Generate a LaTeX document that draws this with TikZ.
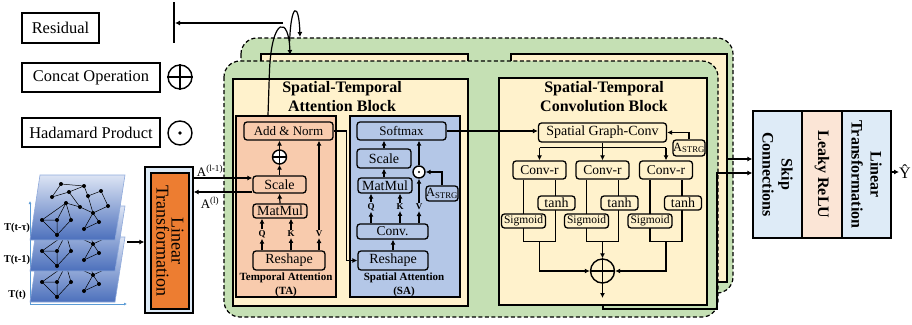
\documentclass[tikz,border=0pt]{standalone}
\usepackage{fontspec}
\setmainfont{Liberation Serif}
\usetikzlibrary{arrows.meta,calc}

\definecolor{greenbg}{HTML}{C5E0B4}
\definecolor{yellowbg}{HTML}{FFF2CC}
\definecolor{tafill}{HTML}{F8CBAD}
\definecolor{safill}{HTML}{B4C7E7}
\definecolor{linorange}{HTML}{ED7D31}
\definecolor{paleblue}{HTML}{DEEBF7}
\definecolor{palepeach}{HTML}{FBE5D6}
\definecolor{planetop}{HTML}{DCE4F4}
\definecolor{planebot}{HTML}{4C70BC}
\definecolor{planeedge}{HTML}{8EA9DB}
\definecolor{axisblue}{HTML}{5B9BD5}

\newcommand\fsz[2]{\fontsize{#1}{#2}\selectfont}

% one graph snapshot on a skewed plane
\newcommand\stgraph{%
  \path[draw=planeedge, line width=0.6pt, top color=planetop, bottom color=planebot]
    (30,240) -- (115,240) -- (125,175) -- (40,175) -- cycle;
  \foreach \n/\px/\py in {1/61/184, 2/84/186, 3/69/192, 4/52/197, 5/88/196, 6/101/191,
      7/108/206, 8/66/203, 9/80/207, 10/93/213, 11/42/220, 12/57/220, 13/71/220,
      14/99/222, 15/84/229, 16/57/235}
    \coordinate (g\n) at (\px,\py);
  \draw[line width=0.5pt] (g1)--(g2) (g1)--(g4) (g4)--(g3) (g3)--(g2) (g3)--(g9)
    (g2)--(g5) (g5)--(g6) (g6)--(g7) (g7)--(g10) (g10)--(g9) (g9)--(g8) (g8)--(g11)
    (g8)--(g12) (g11)--(g12) (g12)--(g16) (g11)--(g16) (g13)--(g16) (g8)--(g13)
    (g10)--(g14) (g14)--(g15) (g15)--(g10) (g5)--(g10);
  \foreach \n in {1,...,16} \fill (g\n) circle (2pt);
}

\tikzset{
  arr/.style={-{Latex[length=5pt,width=5pt]}, line width=1.2pt},
  wire/.style={line width=1.2pt},
  blk/.style={draw, line width=1.3pt, inner sep=0pt},
  legbox/.style={draw, line width=1.3pt, inner sep=0pt, font=\fsz{16.4}{18}},
  rbox/.style={draw, line width=1.3pt, rounded corners=3pt, inner sep=0pt, font=\fsz{14}{15}},
  opl/.style={circle, draw, line width=1.4pt, inner sep=0pt, minimum size=#1},
  qkv/.style={inner sep=0.8pt, font=\bfseries\fsz{9}{10}},
  title/.style={align=center, font=\bfseries\fsz{16}{19}},
  sublabel/.style={align=center, font=\bfseries\fsz{11}{14}},
  greenbox/.style={draw, dashed, dash pattern=on 4pt off 2.5pt, line width=1.2pt,
    fill=greenbg, rounded corners=16pt},
}

\begin{document}
\begin{tikzpicture}[x=1pt,y=-1pt]
\useasboundingbox (0,0) rectangle (912,324);

% ---------- legend ----------
\node[legbox, minimum width=77pt, minimum height=30pt] (res) at (60.5,28) {Residual};
\node[legbox, minimum width=138pt, minimum height=29pt] (cat) at (91,77.5) {Concat Operation};
\node[legbox, minimum width=138pt, minimum height=29pt] (had) at (91,132.5) {Hadamard Product};
\node[opl=24pt] (catSym) at (180,77) {};
\draw[line width=1.4pt] (catSym.north) -- (catSym.south) (catSym.west) -- (catSym.east);
\node[opl=24pt] (hadSym) at (180,133) {};
\fill (hadSym.center) circle (1.8pt);
\draw[line width=1.6pt] (174,2) -- (174,43);
\coordinate (resBar) at (175,23);
\coordinate (resFrom) at (283,23);
\draw[arr] (resFrom) -- (resBar);

% ---------- input graph snapshots ----------
\draw[axisblue, line width=0.7pt, -{Latex[length=3pt,width=3pt]}] (30,304) -- (30,201);
\draw[axisblue, line width=0.7pt, -{Latex[length=3pt,width=3pt]}] (30,304) -- (127,304);
\begin{scope}[shift={(0,62)}]\stgraph\end{scope}
\begin{scope}[shift={(0,31)}]\stgraph\end{scope}
\stgraph
\node[font=\bfseries\fsz{10.5}{12}] (tTau) at (17,228) {T(t-τ)};
\node[font=\bfseries\fsz{10.5}{12}] (tOne) at (17,260) {T(t-1)};
\node[font=\bfseries\fsz{10.5}{12}] (tNow) at (17,295) {T(t)};

% ---------- input linear transformation ----------
\node[blk, fill=paleblue, minimum width=48pt, minimum height=146pt] (linO) at (169,240) {};
\node[blk, fill=linorange, minimum width=38pt, minimum height=136pt] (linI) at (170,241) {};
\node[rotate=-90, align=center, font=\fsz{18}{15}] at (linI.center) {Linear\\Transformation};
\coordinate (planeOut) at (127,242);
\draw[arr] (planeOut) -- (linO.west |- planeOut);

% ---------- stacked ST layers ----------
\draw[greenbox] (241,38) rectangle (733,293);
\draw[line width=1.2pt, fill=yellowbg] (261,54) rectangle (468,80);
\draw[line width=1.2pt, fill=yellowbg] (511,54) rectangle (727,282);
\draw[greenbox] (224,61) rectangle (718,317);

% spatial-temporal attention block
\node[blk, fill=yellowbg, minimum width=235pt, minimum height=227pt] (sta) at (350.5,192.5) {};
\node[title] (staT) at (342,97) {Spatial-Temporal\\Attention Block};

% temporal attention
\node[blk, fill=tafill, minimum width=100pt, minimum height=181pt] (ta) at (286,206.5) {};
\node[rbox, fill=tafill, minimum width=89pt, minimum height=18pt, font=\fsz{13}{15}] (addnorm) at (288.5,131) {Add \& Norm};
\node[opl=14pt, fill=white] (oplusTA) at (279.5,157) {};
\draw[line width=1.4pt] (oplusTA.north) -- (oplusTA.south) (oplusTA.west) -- (oplusTA.east);
\node[rbox, fill=tafill, minimum width=53pt, minimum height=17pt] (scaleTA) at (279.5,184.5) {Scale};
\node[rbox, fill=tafill, minimum width=54pt, minimum height=14pt] (matmulTA) at (280,211) {MatMul};
\node[rbox, fill=tafill, minimum width=72pt, minimum height=19pt] (reshapeTA) at (289,260.5) {Reshape};
\node[qkv] (qTA) at (262,234) {Q};
\node[qkv] (kTA) at (291,234) {K};
\node[qkv] (vTA) at (319,234) {V};
\foreach \l in {qTA,kTA,vTA} \draw[arr] (reshapeTA.north -| \l.south) -- (\l.south);
\draw[arr] (qTA.north) -- (matmulTA.south -| qTA.north);
\draw[arr] (kTA.north) -- (matmulTA.south -| kTA.north);
\draw[arr] (vTA.north) -- (addnorm.south -| vTA.north);
\draw[arr] (matmulTA.north) -- (scaleTA.south);
\draw[arr] (scaleTA.north) -- (oplusTA.south);
\draw[arr] (oplusTA.north) -- (addnorm.south -| oplusTA.north);
\node[sublabel] (taL) at (286,285) {Temporal Attention\\(TA)};

% spatial attention
\node[blk, fill=safill, minimum width=110pt, minimum height=181pt] (sa) at (405,206.5) {};
\node[rbox, fill=safill, minimum width=89pt, minimum height=18pt, font=\fsz{13}{15}] (softmax) at (401.5,131) {Softmax};
\node[rbox, fill=safill, minimum width=54pt, minimum height=19pt] (scaleSA) at (384,158.5) {Scale};
\node[rbox, fill=safill, minimum width=54pt, minimum height=15pt] (matmulSA) at (385,185.5) {MatMul};
\node[opl=12pt, fill=white] (odotSA) at (419,172) {};
\fill (odotSA.center) circle (1.2pt);
\node[rbox, fill=safill, minimum width=32pt, minimum height=15pt, font=\fsz{12.5}{14}] (astrgSA) at (442,193.5) {A\textsubscript{STRG}};
\node[rbox, fill=safill, minimum width=71pt, minimum height=15pt, font=\fsz{13.5}{15}] (convSA) at (392.5,231.5) {Conv.};
\node[rbox, fill=safill, minimum width=70pt, minimum height=19pt] (reshapeSA) at (393,260.5) {Reshape};
\node[qkv] (qSA) at (371,207) {Q};
\node[qkv] (kSA) at (400,207) {K};
\node[qkv] (vSA) at (419,207) {V};
\foreach \l in {qSA,kSA,vSA} \draw[arr] (convSA.north -| \l.south) -- (\l.south);
\draw[arr] (qSA.north) -- (matmulSA.south -| qSA.north);
\draw[arr] (kSA.north) -- (matmulSA.south -| kSA.north);
\draw[arr] (vSA.north) -- (odotSA.south);
\draw[arr] (odotSA.north) -- (softmax.south -| odotSA.north);
\draw[arr] (astrgSA.north) |- (odotSA.east);
\draw[arr] (matmulSA.north -| scaleSA.south) -- (scaleSA.south);
\draw[arr] (scaleSA.north) -- (softmax.south -| scaleSA.north);
\draw[arr] (reshapeSA.north) -- (convSA.south -| reshapeSA.north);
\node[sublabel] (saL) at (404,285) {Spatial Attention\\(SA)};
\draw[arr] (addnorm.east) -- ++(13,0) |- (reshapeSA.west);

% links to the input transformation
\draw[arr] (linO.east |- 0,178) -- (scaleTA.west |- 0,178);
\draw[arr] (scaleTA.west |- 0,192) -- (linO.east |- 0,192);
\node[font=\fsz{13}{15}, inner sep=0pt] (aPrev) at (210,171) {A\textsuperscript{(l-1)}};
\node[font=\fsz{13}{15}, inner sep=0pt] (aCur) at (210,203) {A\textsuperscript{(l)}};

% residual loops above the layers
\coordinate (loopA) at ([xshift=-18pt]ta.north);
\draw[arr] (loopA) -- (269.5,70) .. controls (272,16) and (289,16) .. (290,55);
\draw[arr] (289.6,42) .. controls (291,2) and (299,2) .. (300,37);

% spatial-temporal convolution block
\node[blk, fill=yellowbg, minimum width=208pt, minimum height=227pt] (stc) at (603,191.5) {};
\node[title] (stcT) at (604,97) {Spatial-Temporal\\Convolution Block};
\node[rbox, fill=yellowbg, minimum width=128pt, minimum height=19pt] (sgc) at (602.5,132.5) {Spatial Graph-Conv};
\node[rbox, fill=yellowbg, minimum width=32pt, minimum height=16pt, font=\fsz{12.5}{14}] (astrgC) at (689,148) {A\textsubscript{STRG}};
\draw[arr] (softmax.east) -- (sgc.west |- softmax.east);
\draw[arr] (astrgC.north) |- (sgc.east);

\node[rbox, fill=yellowbg, minimum width=53pt, minimum height=18pt, font=\fsz{13.5}{15}] (convr1) at (539.5,170) {Conv-r};
\node[rbox, fill=yellowbg, minimum width=53pt, minimum height=18pt, font=\fsz{13.5}{15}] (convr2) at (602.5,170) {Conv-r};
\node[rbox, fill=yellowbg, minimum width=53pt, minimum height=18pt, font=\fsz{13.5}{15}] (convr3) at (666,170) {Conv-r};
\coordinate (split) at ($(sgc.south)+(0,5)$);
\draw[wire] (sgc.south) -- (split);
\draw[wire] (convr1.north |- split) -- (convr3.north |- split);
\foreach \c in {convr1,convr2,convr3} \draw[arr] (\c.north |- split) -- (\c.north);

\node[opl=24pt, fill=yellowbg] (oplusC) at (602.5,271) {};
\draw[line width=1.4pt] (oplusC.north) -- (oplusC.south) (oplusC.west) -- (oplusC.east);

% gated branches
\foreach \c in {convr1,convr2,convr3}
  \draw[wire] ([xshift=-16pt]\c.south) -- ++(0,62) -- ++(32,0) -- ([xshift=16pt]\c.south);
\draw[arr] ($(convr1.south)+(0,62)$) |- (oplusC.west);
\draw[arr] ($(convr2.south)+(0,62)$) -- (oplusC.north);
\draw[arr] ($(convr3.south)+(0,62)$) |- (oplusC.east);
\foreach \c/\i in {convr1/1,convr2/2,convr3/3} {
  \node[rbox, fill=yellowbg, minimum width=37pt, minimum height=14pt] (tanh\i) at ($(\c.center)+(17,33)$) {tanh};
  \node[rbox, fill=yellowbg, minimum width=44pt, minimum height=14pt, font=\fsz{11.5}{13}] (sig\i) at ($(\c.center)+(-16,51)$) {Sigmoid};
}
\draw[arr] (oplusC.south) -- (oplusC.south |- 0,298);

% ---------- output head ----------
\node[blk, fill=paleblue, minimum width=49pt, minimum height=127pt] (skip) at (777.5,174.5) {};
\node[blk, fill=palepeach, minimum width=40pt, minimum height=127pt] (leaky) at (822,174.5) {};
\node[blk, fill=paleblue, minimum width=49pt, minimum height=127pt] (linR) at (866.5,174.5) {};
\node[rotate=-90, align=center, font=\bfseries\fsz{16}{19}] at (skip.center) {Skip\\Connections};
\node[rotate=-90, font=\bfseries\fsz{16}{19}] at (leaky.center) {Leaky ReLU};
\node[rotate=-90, align=center, font=\bfseries\fsz{16}{19}] at (linR.center) {Linear\\Transformation};
\node[font=\fsz{16}{18}, inner sep=0pt] (yhat) at (905,172) {Ŷ};
\draw[arr] (linR.east |- yhat.west) -- (yhat.west);

\coordinate (outBend) at (717,309);
\draw[arr] (stc.south) |- (outBend) |- (skip.west |- 0,173);
\coordinate (backOut) at (727,159);
\draw[arr] (backOut) -- (skip.west |- backOut);
\end{tikzpicture}
\end{document}
